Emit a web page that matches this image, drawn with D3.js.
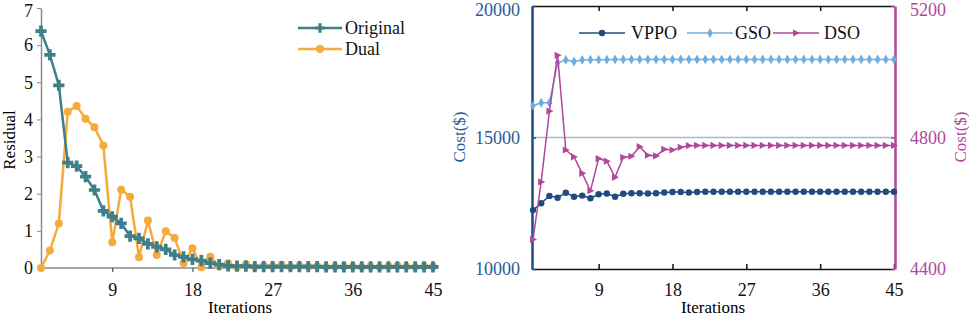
<!DOCTYPE html>
<html><head><meta charset="utf-8">
<script src="https://cdn.jsdelivr.net/npm/d3@7/dist/d3.min.js"></script>
<style>body{margin:0;background:#fff}svg{display:block}svg text{font-family:'Liberation Serif','Tinos','Times New Roman','DejaVu Serif',serif !important}</style>
</head><body><svg id="c" width="969" height="318"></svg>
<script>
const iterations = d3.range(1, 46);
const xTicks = [9, 18, 27, 36, 45];
const residualTicks = [0, 1, 2, 3, 4, 5, 6, 7];
const original = [6.38,5.74,4.92,2.84,2.74,2.46,2.1,1.54,1.38,1.2,0.86,0.8,0.65,0.57,0.5,0.35,0.3,0.23,0.2,0.13,0.09,0.06,0.05,0.05,0.04,0.04,0.04,0.04,0.04,0.04,0.04,0.04,0.03,0.03,0.03,0.03,0.03,0.03,0.03,0.03,0.03,0.03,0.03,0.03,0.03];
const dual = [0,0.47,1.2,4.21,4.36,4.02,3.79,3.3,0.69,2.11,1.92,0.29,1.28,0.35,0.99,0.81,0.13,0.53,0.02,0.3,0.05,0.13,0.02,0.1,0.03,0.06,0.04,0.09,0.03,0.06,0.04,0.05,0.03,0.04,0.04,0.05,0.03,0.04,0.03,0.05,0.06,0.04,0.03,0.05,0.04];
const costTicksLeft = [10000, 15000, 20000];
const costTicksRight = [4400, 4800, 5200];
const vppo = [12240,12500,12780,12710,12900,12750,12790,12690,12840,12870,12750,12860,12880,12880,12870,12880,12910,12930,12930,12910,12930,12940,12940,12940,12940,12940,12940,12940,12940,12940,12940,12940,12940,12940,12940,12940,12940,12940,12940,12940,12940,12940,12940,12940,12940];
const gso = [16210,16320,16320,17840,17950,17890,17950,17960,17960,17960,17970,17970,17970,17970,17970,17970,17970,17970,17970,17970,17970,17970,17970,17970,17970,17970,17970,17970,17970,17970,17970,17970,17970,17970,17970,17970,17970,17970,17970,17970,17970,17970,17970,17970,17970];
const dso = [4490,4665,4880,5050,4762,4741,4691,4638,4736,4728,4679,4740,4743,4772,4746,4744,4764,4762,4770,4775,4776,4776,4776,4776,4776,4776,4776,4776,4776,4776,4776,4776,4776,4776,4776,4776,4776,4776,4776,4776,4776,4776,4776,4776,4776];

const FONT = "Liberation Serif, Tinos, Times New Roman, DejaVu Serif, serif";
const svg = d3.select("#c").attr("font-family", FONT);
const C = {orig:"#3e7f89", dual:"#f5aa3c", vppo:"#1f4c7f", gso:"#6daee2", dso:"#b0489b", gray:"#8a8a8a", blueTxt:"#2a5a9a"};
const fmt = d3.format("d");

function styleTicks(ax, size, fill){
  ax.attr("font-family", FONT);
  ax.selectAll("text").attr("font-size", size).attr("fill", fill).attr("font-family", FONT);
}

// ---------- Left chart ----------
const xL = d3.scaleLinear().domain([1,45]).range([41,433]);
const yL = d3.scaleLinear().domain([0,7]).range([268,8]);
const gL = svg.append("g");
const axB = gL.append("g").attr("transform","translate(0,268)")
  .call(d3.axisBottom(xL).tickValues(xTicks).tickFormat(fmt).tickSize(4).tickSizeOuter(0).tickPadding(11));
axB.select(".domain").attr("stroke",C.gray).attr("stroke-width",1.5).attr("d","M41,0H438");
axB.selectAll("line").attr("stroke","#333");
styleTicks(axB,18,"#111");
const axLy = gL.append("g").attr("transform","translate(41,0)")
  .call(d3.axisLeft(yL).tickValues(residualTicks).tickFormat(fmt).tickSize(4).tickSizeOuter(0).tickPadding(4));
axLy.select(".domain").attr("stroke",C.gray).attr("stroke-width",1.5);
axLy.selectAll("line").attr("stroke",C.gray);
styleTicks(axLy,18,"#111");
axLy.selectAll(".tick").filter(d=>d===7).select("text").attr("dy","0.45em");
gL.append("text").attr("x",240).attr("y",313).attr("text-anchor","middle").attr("font-size",17).text("Iterations");
gL.append("text").attr("transform","translate(15,140) rotate(-90)").attr("text-anchor","middle").attr("font-size",17).text("Residual");

const lineL = d => d3.line().x((v,i)=>xL(iterations[i])).y(v=>yL(v))(d);
gL.append("path").attr("d",lineL(dual)).attr("fill","none").attr("stroke",C.dual).attr("stroke-width",2.5);
gL.selectAll(".dc").data(dual).join("circle").attr("cx",(v,i)=>xL(iterations[i])).attr("cy",v=>yL(v)).attr("r",4).attr("fill",C.dual);
gL.append("path").attr("d",lineL(original)).attr("fill","none").attr("stroke",C.orig).attr("stroke-width",2.5);
const plus = d3.symbol().type(d3.symbolCross).size(70);
gL.selectAll(".oc").data(original).join("path").attr("d",plus)
  .attr("transform",(v,i)=>`translate(${xL(iterations[i])},${yL(v)})`).attr("fill",C.orig);

const lgL = svg.append("g");
[["Original",C.orig,"plus",28],["Dual",C.dual,"circle",49]].forEach(([t,c,m,y])=>{
  lgL.append("line").attr("x1",298).attr("x2",342).attr("y1",y).attr("y2",y).attr("stroke",c).attr("stroke-width",2.5);
  if(m==="plus") lgL.append("path").attr("d",d3.symbol().type(d3.symbolCross).size(50)).attr("transform",`translate(320,${y})`).attr("fill",c);
  else lgL.append("circle").attr("cx",320).attr("cy",y).attr("r",4).attr("fill",c);
  lgL.append("text").attr("x",345).attr("y",y+6).attr("font-size",18).attr("fill","#111").text(t);
});

// ---------- Right chart ----------
const xR = d3.scaleLinear().domain([1,45]).range([533,894]);
const yRl = d3.scaleLinear().domain([10000,20000]).range([269,6]);
const yRr = d3.scaleLinear().domain([4400,5200]).range([269,6]);
const gR = svg.append("g");
gR.append("line").attr("x1",533).attr("x2",894).attr("y1",yRl(15000)).attr("y2",yRl(15000)).attr("stroke","#9dbcdc").attr("stroke-width",1.5);
const axRB = gR.append("g").attr("transform","translate(0,269)")
  .call(d3.axisBottom(xR).tickValues(xTicks).tickFormat(fmt).tickSize(-5).tickSizeOuter(0).tickPadding(14));
axRB.select(".domain").attr("stroke","#111").attr("stroke-width",1.5);
axRB.selectAll("line").attr("stroke","#111").attr("stroke-width",1.5);
styleTicks(axRB,18,"#111");
const axRT = gR.append("g").attr("transform","translate(0,6)")
  .call(d3.axisTop(xR).tickValues(xTicks.slice(0,4)).tickSize(-5).tickSizeOuter(0).tickFormat(""));
axRT.select(".domain").attr("stroke","#111").attr("stroke-width",1.5);
axRT.selectAll("line").attr("stroke","#111").attr("stroke-width",1.5);
const axRL = gR.append("g").attr("transform","translate(532,0)")
  .call(d3.axisLeft(yRl).tickValues(costTicksLeft).tickFormat(fmt).tickSize(-4).tickSizeOuter(0).tickPadding(12));
axRL.select(".domain").attr("stroke",C.vppo).attr("stroke-width",2.5);
axRL.selectAll("line").attr("stroke",C.vppo).attr("stroke-width",1.5);
styleTicks(axRL,18,C.blueTxt);
const axRR = gR.append("g").attr("transform","translate(895,0)")
  .call(d3.axisRight(yRr).tickValues(costTicksRight).tickFormat(fmt).tickSize(-4).tickSizeOuter(0).tickPadding(15));
axRR.select(".domain").attr("stroke",C.dso).attr("stroke-width",2.5);
axRR.selectAll("line").attr("stroke",C.dso).attr("stroke-width",1.5);
styleTicks(axRR,18,C.dso);
axRL.selectAll(".tick").filter(d=>d===20000).select("text").attr("dy","0.5em");
axRR.selectAll(".tick").filter(d=>d===5200).select("text").attr("dy","0.5em");

gR.append("text").attr("x",713).attr("y",313).attr("text-anchor","middle").attr("font-size",17).text("Iterations");
gR.append("text").attr("transform","translate(465,137) rotate(-90)").attr("text-anchor","middle").attr("font-size",17).attr("fill",C.blueTxt).text("Cost($)");
gR.append("text").attr("transform","translate(966,137) rotate(-90)").attr("text-anchor","middle").attr("font-size",17).attr("fill",C.dso).text("Cost($)");

const lineR = (d,y) => d3.line().x((v,i)=>xR(iterations[i])).y(v=>y(v))(d);
gR.append("path").attr("d",lineR(gso,yRl)).attr("fill","none").attr("stroke",C.gso).attr("stroke-width",1.5);
const diamond = d3.symbol().type(d3.symbolDiamond).size(28);
gR.selectAll(".gs").data(gso).join("path").attr("d",diamond).attr("transform",(v,i)=>`translate(${xR(iterations[i])},${yRl(v)})`).attr("fill",C.gso);
gR.append("path").attr("d",lineR(vppo,yRl)).attr("fill","none").attr("stroke",C.vppo).attr("stroke-width",1.5);
gR.selectAll(".vp").data(vppo).join("circle").attr("cx",(v,i)=>xR(iterations[i])).attr("cy",v=>yRl(v)).attr("r",3.2).attr("fill",C.vppo);
gR.append("path").attr("d",lineR(dso,yRr)).attr("fill","none").attr("stroke",C.dso).attr("stroke-width",1.5);
const tri = "M-3,-3.6L4,0L-3,3.6Z";
gR.selectAll(".ds").data(dso).join("path").attr("d",tri).attr("transform",(v,i)=>`translate(${xR(iterations[i])},${yRr(v)})`).attr("fill",C.dso);

const lgR = svg.append("g");
[["VPPO",C.vppo,"circle",579,631],["GSO",C.gso,"diamond",687,735],["DSO",C.dso,"tri",773,824]].forEach(([t,c,m,x,tx])=>{
  const y = 33;
  lgR.append("line").attr("x1",x).attr("x2",x+46).attr("y1",y).attr("y2",y).attr("stroke",c).attr("stroke-width",1.5);
  if(m==="circle") lgR.append("circle").attr("cx",x+23).attr("cy",y).attr("r",3.2).attr("fill",c);
  else if(m==="diamond") lgR.append("path").attr("d",diamond).attr("transform",`translate(${x+23},${y})`).attr("fill",c);
  else lgR.append("path").attr("d",tri).attr("transform",`translate(${x+23},${y})`).attr("fill",c);
  lgR.append("text").attr("x",tx).attr("y",y+6).attr("font-size",18).attr("fill","#111").text(t);
});
</script></body></html>
